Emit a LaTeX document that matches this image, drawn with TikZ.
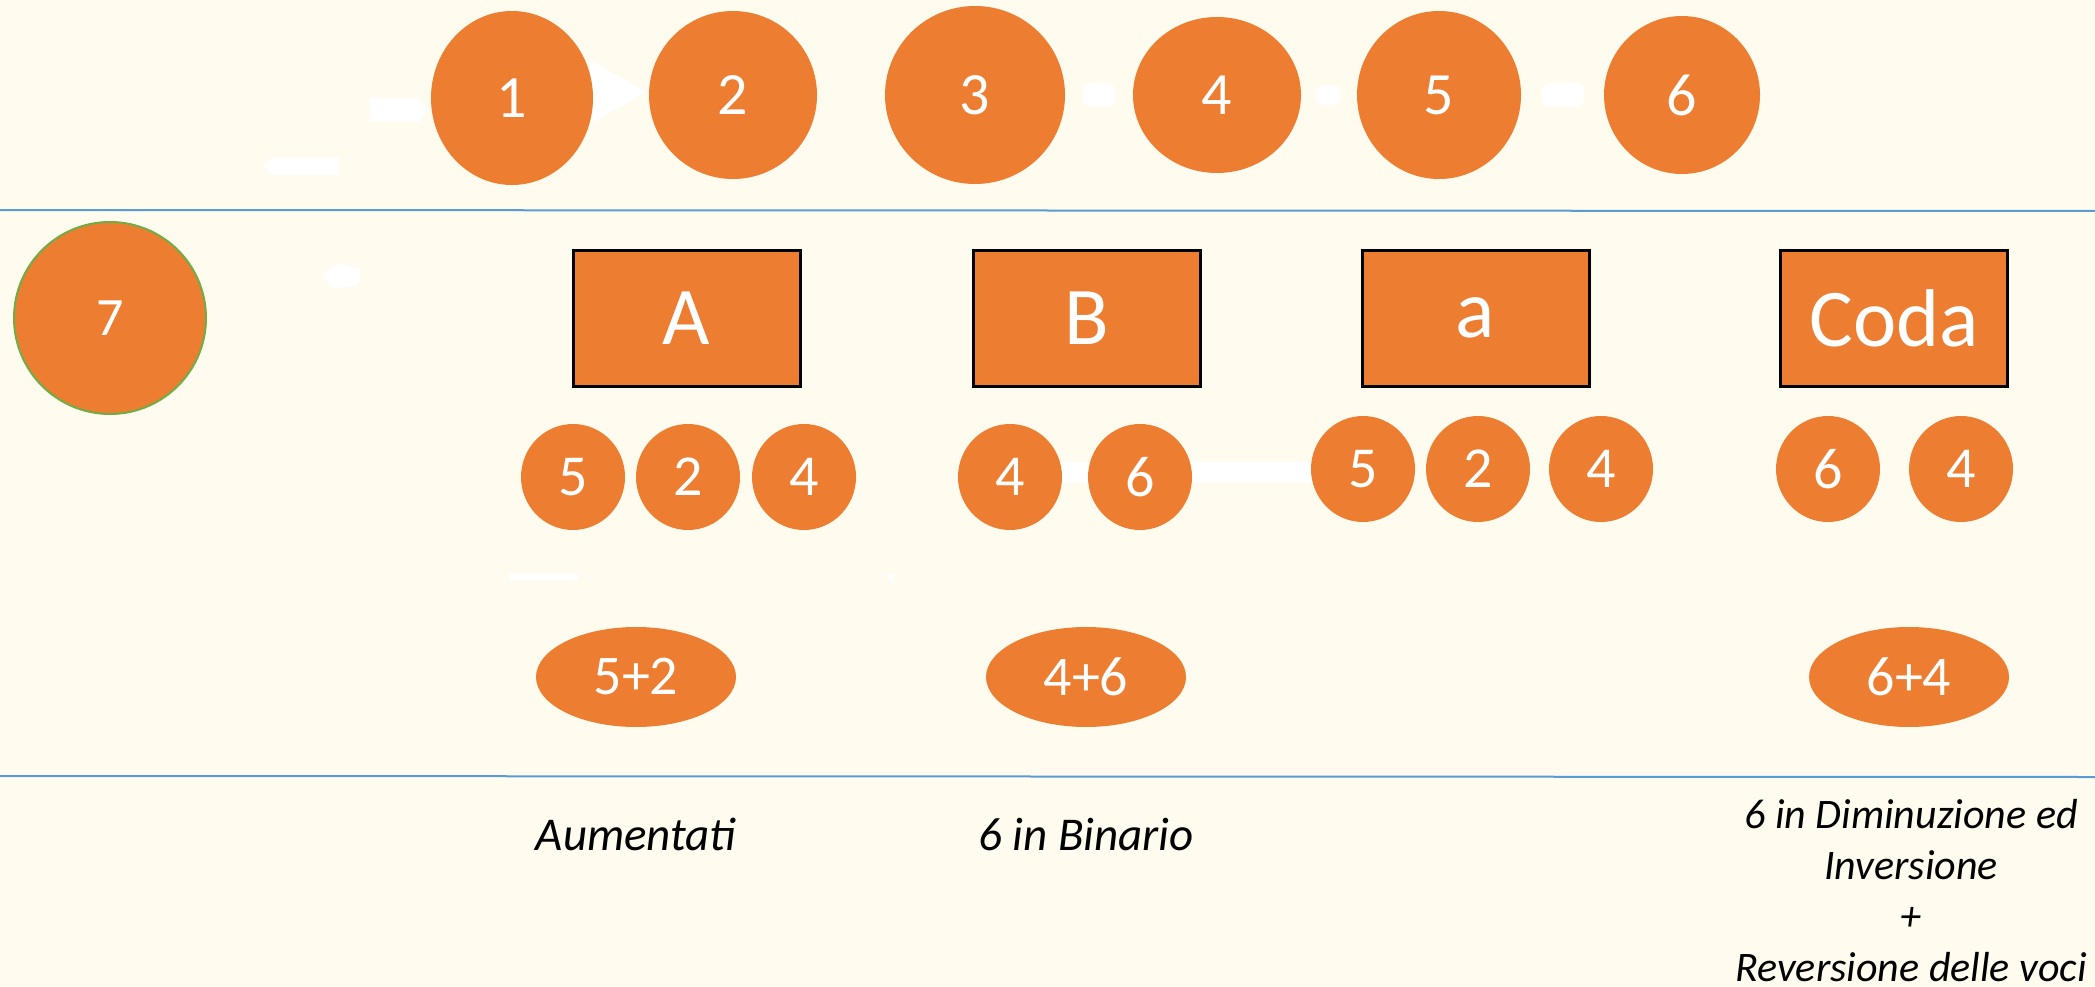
\documentclass[tikz,border=0pt]{standalone}
\usepackage{fontspec}
\setmainfont{Carlito}
\usetikzlibrary{shapes.geometric}
\definecolor{bg}{HTML}{FFFBEE}
\definecolor{org}{HTML}{ED7D31}
\definecolor{lblue}{HTML}{5B9BD5}
\definecolor{grn}{HTML}{70AD47}
\begin{document}
\begin{tikzpicture}[x=1pt,y=-1pt,
  circ/.style={ellipse, fill=org, text=white, inner sep=0pt, font=\fontsize{60}{60}\selectfont},
  small/.style={ellipse, fill=org, text=white, inner sep=0pt, minimum width=104pt, minimum height=106pt, font=\fontsize{58}{58}\selectfont},
  oval/.style={ellipse, fill=org, text=white, inner sep=0pt, minimum width=200pt, minimum height=100pt, font=\fontsize{56}{56}\selectfont},
  boxnode/.style={rectangle, fill=org, draw=black, line width=3pt, text=white, minimum width=227pt, minimum height=136pt, inner sep=0pt, font=\fontsize{82}{82}\selectfont},
  caption/.style={align=center, font=\fontsize{47}{51}\selectfont\itshape, text=black},
  captionb/.style={align=center, font=\fontsize{42}{51}\selectfont\itshape, text=black},
  sep/.style={draw=lblue, line width=2pt},
  ghost/.style={fill=white}
]
\useasboundingbox (0,0) rectangle (2095,987);
\fill[bg] (0,0) rectangle (2095,987);

% separator lines
\coordinate (l1a) at (0,210); \coordinate (l1b) at (2095,211);
\coordinate (l2a) at (0,776); \coordinate (l2b) at (2095,777);
\draw[sep] (l1a) -- (l1b);
\draw[sep] (l2a) -- (l2b);

% white arrow fragments
\fill[ghost] (263,166) -- (272,157) -- (339,157) -- (339,175) -- (272,175) -- cycle;
\fill[ghost] (370,98) -- (418,98) -- (428,110) -- (418,122) -- (370,122) -- cycle;
\fill[ghost] (590,60) -- (646,92) -- (590,124) -- cycle;
\fill[ghost, rounded corners=8pt] (1083,83) rectangle (1115,107);
\fill[ghost, rounded corners=8pt] (1316,85) rectangle (1341,105);
\fill[ghost, rounded corners=8pt] (1542,83) rectangle (1584,107);
\fill[ghost, rounded corners=3pt] (321,276) -- (338,263) -- (362,270) -- (358,285) -- (335,289) -- cycle;
\fill[ghost] (509,573) rectangle (578,580);
\fill[ghost] (888,574) rectangle (894,580);
\fill[ghost] (1060,462) rectangle (1320,483);

% top row
\node[circ, minimum width=162pt, minimum height=174pt] (c1) at (512,98) {1};
\node[circ, minimum width=168pt, minimum height=168pt] (c2) at (733,95) {2};
\node[circ, minimum width=180pt, minimum height=178pt] (c3) at (975,95) {3};
\node[circ, minimum width=168pt, minimum height=156pt] (c4) at (1217,95) {4};
\node[circ, minimum width=164pt, minimum height=168pt] (c5) at (1439,95) {5};
\node[circ, minimum width=156pt, minimum height=158pt] (c6) at (1682,95) {6};

% 7
\node[circ, draw=grn, line width=2pt, minimum width=192pt, minimum height=192pt, font=\fontsize{54}{54}\selectfont] (c7) at (110,318) {7};

% boxes
\node[boxnode] (bA) at (686.5,318) {A};
\node[boxnode] (bB) at (1086.5,318) {B};
\node[boxnode] (ba) at (1475.5,318) {a};
\node[boxnode] (bC) at (1894,318) {Coda};

% small circles
\node[small] (a5) at (573,477) {5};
\node[small] (a2) at (688,477) {2};
\node[small] (a4) at (804,477) {4};
\node[small] (b4) at (1010,477) {4};
\node[small] (b6) at (1140,477) {6};
\node[small] (s5) at (1363,469) {5};
\node[small] (s2) at (1478,469) {2};
\node[small] (s4) at (1601,469) {4};
\node[small] (d6) at (1828,469) {6};
\node[small] (d4) at (1961,469) {4};

% ovals
\node[oval] (o1) at (636,677) {5+2};
\node[oval] (o2) at (1086,677) {4+6};
\node[oval] (o3) at (1909,677) {6+4};

% captions
\node[caption] (t1) at (636,834) {Aumentati};
\node[caption] (t2) at (1086,834) {6 in Binario};
\node[captionb, anchor=north] (t3) at (1911,796) {6 in Diminuzione ed\\Inversione\\+\\Reversione delle voci};
\end{tikzpicture}
\end{document}
